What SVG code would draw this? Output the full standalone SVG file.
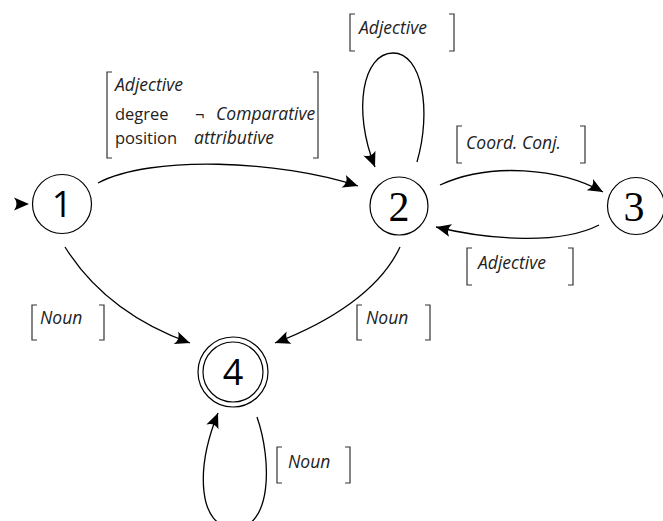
<svg xmlns="http://www.w3.org/2000/svg" width="663" height="521" viewBox="0 0 663 521">
  <style>
    .state { fill: #fff; stroke: #000; stroke-width: 1.2; }
    .sans-num { font-family: "Open Sans", "Noto Sans", sans-serif; font-size: 36px; fill: #000; text-anchor: middle; }
    .serif-num { font-family: "Liberation Serif", "DejaVu Serif", serif; font-size: 42px; fill: #000; text-anchor: middle; }
    .edge { fill: none; stroke: #000; stroke-width: 1.3; marker-end: url(#head); }
    .brk { fill: none; stroke: #333; stroke-width: 1.2; }
    .lbl { font-family: "Open Sans", "Noto Sans", sans-serif; font-size: 16.5px; fill: #222; }
    .it { font-style: italic; font-size: 17.5px; }
  </style>
  <defs>
    <marker id="head" viewBox="-16 -7 17 14" refX="0" refY="0" markerWidth="17" markerHeight="14" markerUnits="userSpaceOnUse" orient="auto">
      <path d="M0,0 L-15,-6.5 Q-10,0 -15,6.5 Z" fill="#000"/>
    </marker>
  </defs>
  <rect width="663" height="521" fill="#fff"/>

  <!-- connectors -->
  <g id="edges">
    <path id="start" d="M13,204 L29,204" fill="none" stroke="none" marker-end="url(#head)"/>
    <path class="edge" d="M98,183 C150,155 280,160 358,186"/>
    <path class="edge" d="M417,162 C432,110 422,53 393,53 C363,53 352,110 375,167"/>
    <path class="edge" d="M440,185 C490,162 560,168 603,192"/>
    <path class="edge" d="M599,225 C560,245 490,240 436,227"/>
    <path class="edge" d="M400,247 C380,290 330,322 275,343"/>
    <path class="edge" d="M65,247 C95,295 140,325 190,343"/>
    <path class="edge" d="M257,417 C272,460 272,528 235,528 C198,528 195,470 218,413"/>
  </g>

  <!-- edge labels -->
  <g id="label-1-2">
    <path class="brk" d="M112,72 H107 V158 H112 M313,72 H318 V158 H313"/>
    <text class="lbl it" x="115" y="91">Adjective</text>
    <text class="lbl" x="115" y="120">degree</text>
    <text class="lbl" x="195" y="120">¬</text>
    <text class="lbl it" x="216" y="120">Comparative</text>
    <text class="lbl" x="115" y="144">position</text>
    <text class="lbl it" x="194" y="144">attributive</text>
  </g>
  <g id="label-2-2">
    <path class="brk" d="M355,14 H350 V51 H355 M449,14 H454 V51 H449"/>
    <text class="lbl it" x="359" y="34">Adjective</text>
  </g>
  <g id="label-2-3">
    <path class="brk" d="M462,126 H457 V163 H462 M580,126 H585 V163 H580"/>
    <text class="lbl it" x="466" y="149">Coord. Conj.</text>
  </g>
  <g id="label-3-2">
    <path class="brk" d="M472,248 H467 V285 H472 M568,248 H573 V285 H568"/>
    <text class="lbl it" x="478" y="269">Adjective</text>
  </g>
  <g id="label-1-4">
    <path class="brk" d="M37,305 H32 V340 H37 M99,305 H104 V340 H99"/>
    <text class="lbl it" x="40" y="324">Noun</text>
  </g>
  <g id="label-2-4">
    <path class="brk" d="M362,305 H357 V340 H362 M425,305 H430 V340 H425"/>
    <text class="lbl it" x="366" y="324">Noun</text>
  </g>
  <g id="label-4-4">
    <path class="brk" d="M282,447 H277 V483 H282 M345,447 H350 V483 H345"/>
    <text class="lbl it" x="288" y="468">Noun</text>
  </g>

  <!-- states -->
  <g id="node-1">
    <circle class="state" cx="62" cy="204" r="29.5"/>
    <text class="sans-num" x="62" y="217">1</text>
  </g>
  <g id="node-2">
    <circle class="state" cx="399" cy="206" r="29"/>
    <text class="serif-num" x="399" y="221">2</text>
  </g>
  <g id="node-3">
    <circle class="state" cx="636" cy="206" r="28.5"/>
    <text class="serif-num" x="634" y="221">3</text>
  </g>
  <g id="node-4">
    <circle class="state" cx="233" cy="372" r="35"/>
    <circle class="state" cx="233" cy="372" r="30" fill="none"/>
    <text class="sans-num" x="233" y="385">4</text>
  </g>
</svg>
